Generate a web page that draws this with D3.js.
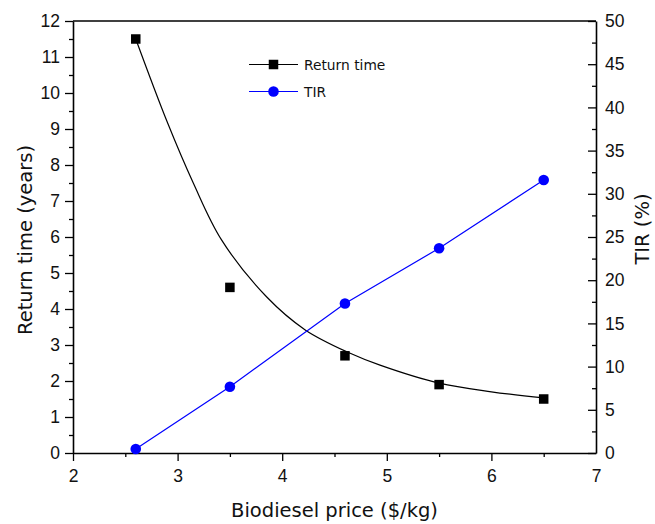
<!DOCTYPE html>
<html><head><meta charset="utf-8">
<script src="https://cdn.jsdelivr.net/npm/d3@7"></script>
<style>body{margin:0;background:#fff}svg{display:block}</style>
</head><body>
<script>
const prices = [2.6, 3.5, 4.6, 5.5, 6.5];
const returnTime = [11.5, 4.6, 2.7, 1.9, 1.5];
const tir = [0.46, 7.67, 17.3, 23.7, 31.6];
// fitted curve for return time
const fitX = [2.6, 2.9, 3.15, 3.42, 3.85, 4.22, 4.65, 4.935, 5.5, 6.0, 6.5];
const fitY = [11.5, 9.2, 7.5, 5.92, 4.34, 3.42, 2.77, 2.44, 1.94, 1.70, 1.53];
const xTicks = [2, 3, 4, 5, 6, 7];
const yLeftTicks = [0,1,2,3,4,5,6,7,8,9,10,11,12];
const yRightTicks = [0,5,10,15,20,25,30,35,40,45,50];

const W = 655, H = 524;
const m = {l: 73, r: 596, t: 21, b: 453};
const svg = d3.select("body").append("svg").attr("width", W).attr("height", H);

const x = d3.scaleLinear().domain([2, 7]).range([m.l, m.r]);
const yL = d3.scaleLinear().domain([0, 12]).range([m.b, m.t]);
const yR = d3.scaleLinear().domain([0, 50]).range([m.b, m.t]);

const tickFont = "'Liberation Sans', Arial, sans-serif";
const titleFont = "'DejaVu Sans', Verdana, sans-serif";
const tickSize = 17.5, titleSize = 19.5;

const minorX = d3.range(2.5, 7, 1);
const minorL = d3.range(0.5, 12, 1);
const minorR = d3.range(2.5, 50, 5);

const gx = svg.append("g").attr("transform", `translate(0,${m.b})`)
  .call(d3.axisBottom(x).tickValues(xTicks).tickFormat(d3.format("d")).tickSize(8).tickSizeOuter(0));
gx.selectAll(".tick text").attr("dy", 0).attr("y", 29);
gx.selectAll(".tick").filter(d => d === 7).select("line").remove();
svg.append("g").attr("transform", `translate(0,${m.b})`)
  .call(d3.axisBottom(x).tickValues(minorX).tickFormat("").tickSize(4).tickSizeOuter(0))
  .select(".domain").remove();

const gl = svg.append("g").attr("transform", `translate(${m.l},0)`)
  .call(d3.axisLeft(yL).tickValues(yLeftTicks).tickFormat(d3.format("d")).tickSize(8).tickSizeOuter(0));
gl.selectAll(".tick text").attr("x", -13);
svg.append("g").attr("transform", `translate(${m.l},0)`)
  .call(d3.axisLeft(yL).tickValues(minorL).tickFormat("").tickSize(4).tickSizeOuter(0))
  .select(".domain").remove();

const gr = svg.append("g").attr("transform", `translate(${m.r},0)`)
  .call(d3.axisRight(yR).tickValues(yRightTicks).tickFormat(d3.format("d")).tickSize(-8).tickSizeOuter(0));
gr.selectAll(".tick text").attr("x", 9);
svg.append("g").attr("transform", `translate(${m.r},0)`)
  .call(d3.axisRight(yR).tickValues(minorR).tickFormat("").tickSize(-4).tickSizeOuter(0))
  .select(".domain").remove();

svg.append("line").attr("x1", m.l).attr("x2", m.r).attr("y1", m.t).attr("y2", m.t)
  .attr("stroke", "#000").attr("stroke-width", 1.6);

svg.selectAll(".domain").attr("stroke", "#000").attr("stroke-width", 1.6);
svg.selectAll(".tick line").attr("stroke", "#000").attr("stroke-width", 1.3);
svg.selectAll(".tick text").attr("font-family", tickFont).attr("font-size", tickSize).attr("fill", "#111");

// Titles
svg.append("text").attr("x", (m.l + m.r) / 2).attr("y", 517).attr("text-anchor", "middle")
  .attr("font-family", titleFont).attr("font-size", titleSize).attr("fill", "#111").text("Biodiesel price ($/kg)");
svg.append("text").attr("transform", `translate(32,240) rotate(-90)`).attr("text-anchor", "middle")
  .attr("font-family", titleFont).attr("font-size", titleSize).attr("fill", "#111").text("Return time (years)");
svg.append("text").attr("transform", `translate(649,229) rotate(-90)`).attr("text-anchor", "middle")
  .attr("font-family", titleFont).attr("font-size", titleSize).attr("fill", "#111").text("TIR (%)");

// Fitted curve
const fit = fitX.map((v, i) => [v, fitY[i]]);
svg.append("path").datum(fit)
  .attr("d", d3.line().x(d => x(d[0])).y(d => yL(d[1])).curve(d3.curveCatmullRom.alpha(0.5)))
  .attr("fill", "none").attr("stroke", "#000").attr("stroke-width", 1.2);

// TIR line
const tirData = prices.map((p, i) => [p, tir[i]]);
svg.append("path").datum(tirData)
  .attr("d", d3.line().x(d => x(d[0])).y(d => yR(d[1])))
  .attr("fill", "none").attr("stroke", "#0000ff").attr("stroke-width", 1.2);

const rtData = prices.map((p, i) => [p, returnTime[i]]);
const S = 9.5;
svg.selectAll(".sq").data(rtData).enter().append("rect")
  .attr("x", d => x(d[0]) - S / 2).attr("y", d => yL(d[1]) - S / 2)
  .attr("width", S).attr("height", S).attr("fill", "#000");

svg.selectAll(".ci").data(tirData).enter().append("circle")
  .attr("cx", d => x(d[0])).attr("cy", d => yR(d[1])).attr("r", 5.3).attr("fill", "#0000ff");

// Legend
const leg = [{name: "Return time", color: "#000", shape: "sq", y: 64.5},
             {name: "TIR", color: "#0000ff", shape: "ci", y: 91.5}];
leg.forEach(l => {
  svg.append("line").attr("x1", 249).attr("x2", 298).attr("y1", l.y).attr("y2", l.y)
    .attr("stroke", l.color).attr("stroke-width", 1.2);
  if (l.shape === "sq") {
    svg.append("rect").attr("x", 273.5 - S / 2).attr("y", l.y - S / 2).attr("width", S).attr("height", S).attr("fill", l.color);
  } else {
    svg.append("circle").attr("cx", 273.5).attr("cy", l.y).attr("r", 5.3).attr("fill", l.color);
  }
  svg.append("text").attr("x", 304).attr("y", l.y + 5).attr("font-family", titleFont)
    .attr("font-size", 13.8).attr("fill", "#111").text(l.name);
});
</script>
</body></html>
